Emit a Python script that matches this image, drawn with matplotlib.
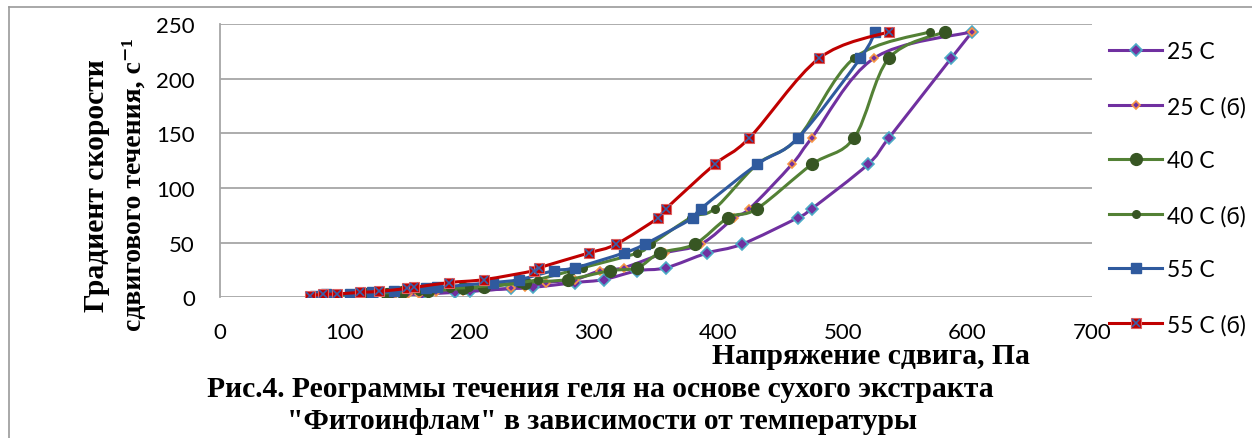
import numpy as np
import matplotlib
matplotlib.use("Agg")
import matplotlib.pyplot as plt
from matplotlib.path import Path
from matplotlib.patches import PathPatch
from matplotlib.lines import Line2D

# Градиент скорости сдвига (ступени ротационного вискозиметра), с^-1
gamma = [1.5, 2.7, 3.0, 4.5, 5.4, 8.1, 9.0, 13.5, 16.2, 24.3, 27.0,
         40.5, 48.6, 72.9, 81.0, 121.5, 145.8, 218.7, 243.0]

# Напряжение сдвига, Па
tau_25 = [123, 139, 162, 189, 201, 234, 251, 285, 308, 335, 358,
          391, 419, 464, 475, 520, 537, 587, 604]
tau_25b = [139, 151, 160, 173, 195, 234, 245, 262, 285, 305, 324,
           357, 386, 413, 425, 459, 475, 525, 604]
tau_40 = [106, 117, 134, 146, 167, 195, 212, 245, 279, 313, 335,
          353, 381, 408, 431, 475, 509, 537, 582]
tau_40b = [95, 108, 118, 140, 160, 185, 200, 240, 255, 282, 291,
           335, 346, 378, 397, 431, 464, 509, 570]
tau_55 = [76, 85, 104, 122, 140, 165, 174, 219, 240, 268, 285,
          324, 341, 380, 386, 431, 464, 514, 526]
tau_55b = [72, 83, 94, 112, 128, 150, 156, 184, 212, 252, 256,
           296, 318, 352, 358, 397, 425, 481, 537]

names = ["25 C", "25 C (б)", "40 C", "40 C (б)", "55 C", "55 C (б)"]

PURPLE = "#7030A0"
GREEN = "#538135"
DKGREEN = "#375623"
BLUE = "#2F5A9E"
RED = "#C00000"


# Сглаженная линия как в Excel: кривые Безье через все точки
def smooth_path(x, y):
    p = np.column_stack([x, y]).astype(float)
    n = len(p)
    verts = [p[0]]
    codes = [Path.MOVETO]
    for i in range(n - 1):
        p0 = p[i - 1] if i > 0 else p[i]
        p3 = p[i + 2] if i + 2 < n else p[i + 1]
        c1 = p[i] + (p[i + 1] - p0) / 6
        c2 = p[i + 1] - (p3 - p[i]) / 6
        verts += [c1, c2, p[i + 1]]
        codes += [Path.CURVE4] * 3
    return Path(verts, codes)


fig = plt.figure(figsize=(12.52, 4.39), dpi=100)
ax = fig.add_axes([220 / 1252, 1 - 298.3 / 439, 872 / 1252, 273.3 / 439])

series = [
    (tau_25, PURPLE, dict(marker="D", ms=6.5, mfc=PURPLE, mec="#4BACC6", mew=1.2)),
    (tau_25b, PURPLE, dict(marker="D", ms=4.5, mfc=PURPLE, mec="#F79646", mew=1.2)),
    (tau_40, GREEN, dict(marker="o", ms=8.5, mfc=DKGREEN, mec=DKGREEN)),
    (tau_40b, GREEN, dict(marker="o", ms=5.5, mfc=DKGREEN, mec=DKGREEN)),
    (tau_55, BLUE, dict(marker="s", ms=7, mfc=BLUE, mec=BLUE)),
    (tau_55b, RED, dict(marker="s", ms=7.5, mfc=RED, mec="#E06060", mew=0.8)),
]

handles = []
for k, (tau, col, mk) in enumerate(series):
    z = 3 + k
    ax.add_patch(PathPatch(smooth_path(tau, gamma), fill=False,
                           edgecolor=col, lw=2.2, zorder=z,
                           capstyle="round", joinstyle="round"))
    ax.plot(tau, gamma, ls="none", zorder=z + 0.5, **mk)
    h = Line2D([], [], color=col, lw=2.2, **mk)
    if k == 5:
        ax.plot(tau, gamma, ls="none", marker="x", ms=6, mec="#3A5FA8",
                mew=1.2, zorder=z + 0.6)
        h = (h, Line2D([], [], ls="none", marker="x", ms=6, mec="#3A5FA8", mew=1.2))
    handles.append(h)

ax.set_xlim(0, 700)
ax.set_ylim(0, 250)
ax.set_xticks(range(0, 701, 100))
ax.set_yticks(range(0, 251, 50))
ax.grid(axis="y", color="#A6A6A6", lw=1.3)
ax.set_axisbelow(True)
for s in ["top", "right", "bottom"]:
    ax.spines[s].set_visible(False)
ax.spines["left"].set_color("#A6A6A6")
ax.spines["left"].set_linewidth(1.3)
ax.tick_params(length=0, labelsize=16, pad=18)
for lab in ax.get_xticklabels() + ax.get_yticklabels():
    lab.set_fontfamily("Lato")

leg = ax.legend(handles, names, loc="upper left", bbox_to_anchor=(1.0, 1.0),
                frameon=False, prop={"family": "Lato", "size": 16.5},
                handlelength=2.3, handletextpad=0.22, labelspacing=1.45,
                borderaxespad=0.36)

serif = {"family": ["Liberation Serif", "DejaVu Serif"], "weight": "bold"}
fig.text(97 / 1252, 1 - 186 / 439, "Градиент скорости", rotation=90,
         ha="center", va="center", fontsize=21.3, **serif)
fig.text(134 / 1252, 1 - 185 / 439, "сдвигового течения, с⁻¹", rotation=90,
         ha="center", va="center", fontsize=20, **serif)
fig.text(871 / 1252, 1 - 357 / 439, "Напряжение сдвига, Па",
         ha="center", va="center", fontsize=21.3, **serif)
fig.text(600 / 1252, 1 - 390 / 439,
         "Рис.4. Реограммы течения геля на основе сухого экстракта",
         ha="center", va="center", fontsize=21.3, **serif)
fig.text(602 / 1252, 1 - 422 / 439,
         "\"Фитоинфлам\" в зависимости от температуры",
         ha="center", va="center", fontsize=21.3, **serif)

# рамка рисунка
fig.add_artist(Line2D([9 / 1252, 1], [1 - 7.5 / 439, 1 - 7.5 / 439],
                      transform=fig.transFigure, color="#9A9A9A", lw=1.2))
fig.add_artist(Line2D([9 / 1252, 9 / 1252], [0, 1 - 7.5 / 439],
                      transform=fig.transFigure, color="#9A9A9A", lw=1.2))

fig.savefig("out.png", dpi=100)
